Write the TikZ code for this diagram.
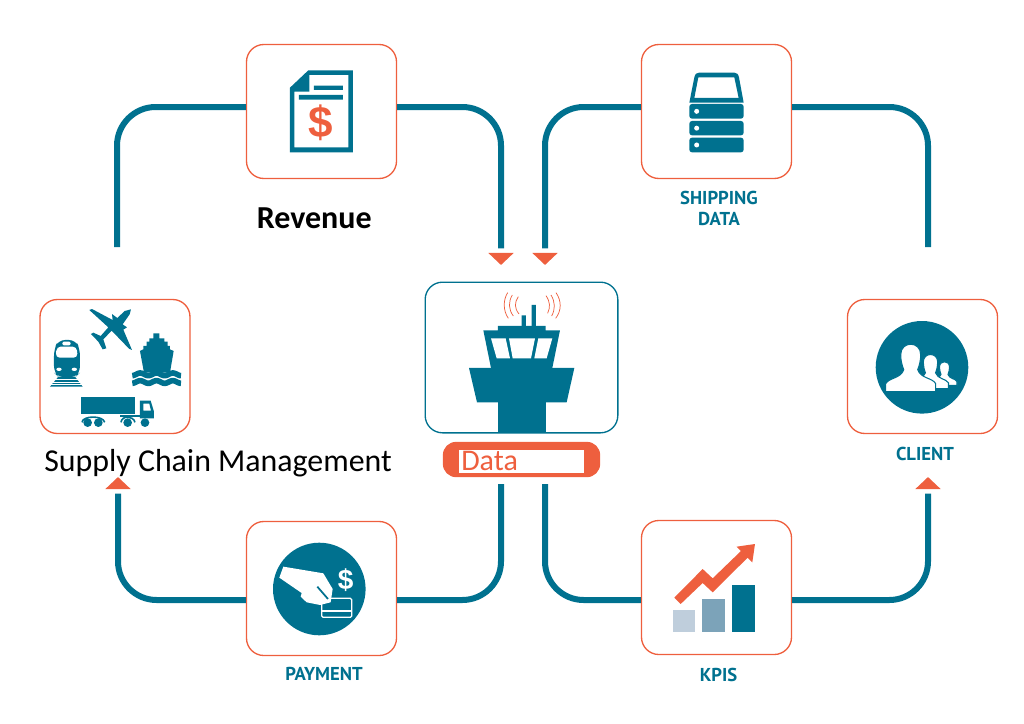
\documentclass[tikz,border=0pt]{standalone}
\usepackage{fontspec}
\setmainfont{Carlito}
\newfontfamily\labelfont{PT Sans}
\newfontfamily\dollarfont{Liberation Sans}
\usetikzlibrary{shapes.geometric}
\definecolor{flowteal}{HTML}{00718F}
\definecolor{flowred}{HTML}{EE5F3E}
\definecolor{barlight}{HTML}{BFCEDC}
\definecolor{barmid}{HTML}{7CA3B9}
\tikzset{
  x=.75pt,y=-.75pt,
  iconbox/.style={draw=flowred,line width=1pt,rounded corners=13pt,minimum width=112.5pt,minimum height=100.5pt,inner sep=0},
  wire/.style={draw=flowteal,line width=4.5pt,rounded corners=29pt},
  tip/.style={isosceles triangle,isosceles triangle apex angle=90,isosceles triangle stretches,fill=flowred,minimum width=19pt,minimum height=9pt,inner sep=0,outer sep=3.5pt},
  caption/.style={font=\labelfont\bfseries\fontsize{14}{15}\selectfont,text=flowteal,inner sep=0},
  bigtext/.style={font=\fontsize{22.5}{26}\selectfont,inner sep=0,anchor=base west},
  ico/.style={fill=flowteal},
  radio/.style={draw=flowred,line width=.55pt},
  dollar/.style={font=\dollarfont\bfseries\fontsize{#1}{#1}\selectfont,inner sep=0}
}
\newcommand{\bust}[3]{%
  \begin{scope}[shift={(#1,#2)},scale=#3]
    \path[fill=white,draw=flowteal,line width=.8pt] (-25,35) -- (-25,27) .. controls (-22,21) and (-10,22) .. (-7,13) .. controls (-9,8) and (-10,3) .. (-10,-2) .. controls (-10,-16) and (10,-16) .. (10,-2) .. controls (10,3) and (9,8) .. (7,13) .. controls (10,22) and (22,21) .. (25,27) -- (25,35) -- cycle;
  \end{scope}}
\begin{document}
\begin{tikzpicture}
  \useasboundingbox (0,0) rectangle (1024,724);
  \coordinate (topline) at (0,107);
  \coordinate (botline) at (0,600);

  \node[iconbox] (rev) at (321.5,111.5) {};
  \node[iconbox] (ship) at (716.5,111.5) {};
  \node[iconbox] (scm) at (115,366.5) {};
  \node[iconbox] (client) at (922.5,366.5) {};
  \node[iconbox] (pay) at (321.5,588.5) {};
  \node[iconbox] (kpi) at (716.5,587.5) {};
  \node[iconbox,draw=flowteal,minimum width=144.5pt,minimum height=113pt] (tower) at (521.5,357.5) {};

  \node[tip,shape border rotate=270] (tipa) at (501,258) {};
  \node[tip,shape border rotate=270] (tipb) at (545,258) {};
  \node[tip,shape border rotate=90] (tipc) at (118,484) {};
  \node[tip,shape border rotate=90] (tipd) at (928,484) {};
  \coordinate (scmout) at (117,247);
  \coordinate (clientin) at (928,247);
  \coordinate (dataa) at (501,484);
  \coordinate (datab) at (545,484);

  \draw[wire] (scmout) |- (rev.west |- topline);
  \draw[wire] (rev.east |- topline) -| (tipa.north);
  \draw[wire] (tipb.north) |- (ship.west |- topline);
  \draw[wire] (ship.east |- topline) -| (clientin);
  \draw[wire] (dataa) |- (pay.east |- botline);
  \draw[wire] (pay.west |- botline) -| (tipc.south);
  \draw[wire] (datab) |- (kpi.west |- botline);
  \draw[wire] (kpi.east |- botline) -| (tipd.south);

  \node[fill=flowred,rounded corners=10pt,minimum width=118pt,minimum height=26.5pt,inner sep=0] (pill) at (521.5,459.5) {};
  \node[fill=white,minimum width=94pt,minimum height=17pt,inner sep=0] (pillin) at (521.5,461.5) {};
  \node[bigtext,text=flowred] (datalbl) at (461,470) {Data};
  \node[bigtext,font=\fontsize{23.9}{26}\selectfont] (scmlbl) at (44,471) {Supply Chain Management};
  \node[bigtext,font=\bfseries\fontsize{24}{26}\selectfont] (revlbl) at (256.5,228) {Revenue};
  \node[caption] (shiplbl) at (719,198) {SHIPPING};
  \node[caption] (shiplblb) at (719,219) {DATA};
  \node[caption] (clientlbl) at (925,453.5) {CLIENT};
  \node[caption] (paylbl) at (324,673.5) {PAYMENT};
  \node[caption] (kpilbl) at (718.5,674.5) {KPIS};

  % invoice
  \begin{scope}[shift={(240,40)},scale=.3333]
    \fill[ico,even odd rule] (150,143) -- (205,91) -- (339,91) -- (339,337) -- (150,337) -- cycle
      (163,155) -- (208,155) -- (208,105) -- (325,105) -- (325,322) -- (163,322) -- cycle;
    \fill[ico] (222,137) rectangle (309,150) (177,165) rectangle (309,179);
    \node[dollar=33,text=flowred] (revsign) at (243,249) {\$};
  \end{scope}

  % server rack
  \begin{scope}[shift={(635,40)},scale=.3333]
    \fill[ico,even odd rule] (163,188) -- (178,112) .. controls (180,102) and (185,98) .. (192,98) -- (298,98) .. controls (305,98) and (310,102) .. (312,112) -- (326,188) -- cycle
      (178,174) -- (190,112) -- (298,112) -- (311,174) -- cycle;
    \foreach \ya/\yb in {192/236,243/286,293/337}{
      \fill[ico,rounded corners=2pt] (163,\ya) rectangle (326,\yb);
      \fill[white] (185,{(\ya+\yb)/2}) circle[radius=7.5];
    }
  \end{scope}

  % transport modes
  \begin{scope}[shift={(30,290)},scale=.3333]
    \fill[ico] (60,290) -- (85,260) -- (135,260) -- (158,290) -- cycle;
    \foreach \y in {268,276,284}\draw[white,line width=.6pt] (60,\y) -- (158,\y);
    \fill[ico,rounded corners=5pt] (85,150) -- (137,150) -- (150,178) -- (150,248) -- (136,262) -- (86,262) -- (72,248) -- (72,178) -- cycle;
    \fill[white,rounded corners=3pt] (80,170) -- (140,170) -- (143,203) -- (77,203) -- cycle;
    \fill[white,rounded corners=1pt] (97,155) rectangle (122,166);
    \fill[white] (87,238) ellipse[x radius=8,y radius=5] (133,238) ellipse[x radius=8,y radius=5];
    \fill[ico] (303,58) -- (299,73) -- (278,103) -- (291,112) -- (280,119) -- (306,180) -- (297,176) -- (245,122) -- (220,148) -- (229,175) -- (218,178) -- (205,155) -- (183,132) -- (190,128) -- (212,138) -- (235,112) -- (178,60) -- (186,57) -- (248,90) -- (246,72) -- (262,84) -- (284,63) -- cycle;
    \fill[ico] (370,130) -- (388,130) -- (388,145) -- (403,145) -- (403,155) -- (413,155) -- (413,168) -- (420,168) -- (420,178) -- (431,183) -- (420,248) -- (342,248) -- (330,183) -- (340,178) -- (340,168) -- (350,168) -- (350,155) -- (358,155) -- (358,145) -- (370,145) -- cycle;
    \draw[flowteal,line width=4.2pt] plot[domain=307:453,samples=50,smooth] (\x,{253+4*sin(\x*7.35)});
    \draw[flowteal,line width=4.2pt] plot[domain=307:453,samples=50,smooth] (\x,{276+4*sin(\x*7.35)});
    \fill[ico] (153,321) rectangle (315,372);
    \fill[ico,even odd rule] (330,332) -- (362,332) -- (372,365) -- (372,385) -- (330,385) -- cycle (340,341) -- (358,341) -- (363,362) -- (340,362) -- cycle;
    \fill[ico] (270,376) rectangle (372,382);
    \draw[flowteal,line width=1.2pt] (156,397) .. controls (158,376) and (220,376) .. (224,397);
    \draw[flowteal,line width=1.2pt] (273,397) .. controls (275,376) and (310,376) .. (315,397);
    \foreach \x in {173,205,293,345}\fill[ico] (\x,398) circle[radius=13];
  \end{scope}

  % control tower
  \begin{scope}[shift={(415,240)},scale=.3333]
    \fill[ico] (250,487) rectangle (392,580);
    \fill[ico] (162,384) -- (478,384) -- (455,487) -- (186,487) -- cycle;
    \fill[ico] (205,271) -- (249,271) -- (249,258) -- (392,258) -- (392,271) -- (435,271) -- (412,384) -- (228,384) -- cycle;
    \fill[ico] (320,226) rectangle (333,260) (350,195) rectangle (363,260);
    \fill[white] (228,295) -- (272,295) -- (285,355) -- (245,355) -- cycle
      (282,295) -- (360,295) -- (348,355) -- (293,355) -- cycle
      (370,295) -- (412,295) -- (395,355) -- (358,355) -- cycle;
    \draw[radio] (278,158) .. controls (264,180) and (264,212) .. (280,235);
    \draw[radio] (292,165) .. controls (280,185) and (280,208) .. (295,228);
    \draw[radio] (310,170) .. controls (298,188) and (298,204) .. (312,222);
    \draw[radio] (393,167) .. controls (406,186) and (406,202) .. (398,220);
    \draw[radio] (408,165) .. controls (421,186) and (421,208) .. (410,228);
    \draw[radio] (423,158) .. controls (440,182) and (440,212) .. (422,235);
  \end{scope}

  % clients
  \fill[ico] (922,367.3) circle[radius=46.3];
  \bust{944.5}{368}{.5}
  \bust{930.5}{363.5}{.72}
  \bust{910.7}{356.7}{1}

  % payment
  \fill[ico] (319.3,589) circle[radius=46.3];
  \begin{scope}[shift={(240,515)},scale=.3333]
    \draw[white,line width=.9pt,rounded corners=1pt] (245,250) rectangle (335,307);
    \fill[white] (245,285) rectangle (335,292);
    \fill[white] (130,155) -- (250,175) -- (278,222) -- (272,262) -- (240,270) -- (200,262) -- (182,245) -- (185,234) -- (118,188) -- cycle;
    \draw[flowteal,line width=1.3pt] (232,215) -- (264,252);
    \node[dollar=21,text=white] (paysign) at (317,195) {\$};
  \end{scope}

  % kpi bars
  \begin{scope}[shift={(635,515)},scale=.3333]
    \fill[barlight] (113,285) rectangle (180,350);
    \fill[barmid] (202,253) rectangle (271,350);
    \fill[ico] (291,210) rectangle (360,350);
    \fill[flowred] (118,248) -- (203,162) -- (233,190) -- (318,108) -- (305,95) -- (360,87) -- (352,142) -- (338,128) -- (233,232) -- (203,204) -- (137,267) -- cycle;
  \end{scope}
\end{tikzpicture}
\end{document}
